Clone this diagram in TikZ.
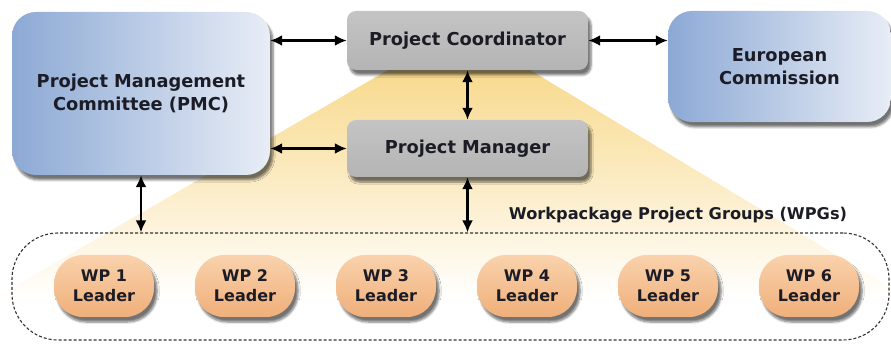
\documentclass[tikz,border=0pt]{standalone}
\usepackage{fontspec}
\setmainfont{DejaVu Sans}
\usetikzlibrary{arrows.meta,shadows.blur}
\definecolor{txt}{HTML}{1C1C26}
\definecolor{blueL}{HTML}{8CA9D5}
\definecolor{blueR}{HTML}{E8EDF6}
\definecolor{grayT}{HTML}{C4C4C4}
\definecolor{grayB}{HTML}{B4B4B4}
\definecolor{orT}{HTML}{F9D2AC}
\definecolor{orB}{HTML}{F0AF7A}
\definecolor{fanT}{HTML}{F8DA8E}
\definecolor{fanM}{HTML}{FCEBC2}
\begin{document}
\begin{tikzpicture}[x=1pt,y=-1pt,
  shad/.style={blur shadow={shadow xshift=3pt,shadow yshift=-5pt,shadow blur steps=6,shadow opacity=55}},
  bluebox/.style={shad,rounded corners=24pt,left color=blueL,right color=blueR,shading angle=90,
    align=center,text=txt,font=\fontsize{17.8}{22.5}\selectfont\bfseries,inner sep=0pt},
  graybox/.style={shad,rounded corners=9pt,top color=grayT,bottom color=grayB,
    minimum width=241pt,align=center,text=txt,font=\fontsize{17.8}{22}\selectfont\bfseries,inner sep=0pt},
  wpnode/.style={shad,rounded corners=29pt,top color=orT,bottom color=orB,minimum width=100pt,minimum height=62pt,
    align=center,text=txt,font=\fontsize{16}{20}\selectfont\bfseries,inner sep=0pt},
  arr/.style={line width=2.6pt,{Latex[length=12pt,width=11pt]}-{Latex[length=12pt,width=11pt]}}
]
\useasboundingbox (0,0) rectangle (891,344);
% fan
\begin{scope}
\clip (0,0) rectangle (891,344);
\shade[top color=fanT,middle color=fanM,bottom color=white]
  (388,70) -- (530,70) -- (911,300) -- (-9,300) -- cycle;
\end{scope}
% group
\node[draw=black!80,dashed,dash pattern=on 3pt off 2pt,line width=1.1pt,rounded corners=46pt,
  minimum width=877pt,minimum height=107pt,inner sep=0pt] (wpg) at (450.5,286.5) {};
\node[font=\fontsize{16.2}{20}\selectfont\bfseries,text=txt] (wpgl) at (678,215) {Workpackage Project Groups (WPGs)};
% boxes
\node[bluebox,minimum width=258pt,minimum height=163pt] (pmc) at (141,93.5) {Project Management\\Committee (PMC)};
\node[bluebox,minimum width=223pt,minimum height=111pt] (ec) at (779.5,66.5) {European\\Commission};
\node[graybox,minimum height=59pt] (pc) at (467.5,40.5) {Project Coordinator};
\node[graybox,minimum height=57pt] (pm) at (467.5,148.5) {Project Manager};
% WPs
\foreach \i/\x in {1/104,2/245,3/386,4/527,5/668,6/809}{
  \node[wpnode] (wp\i) at (\x,286) {WP \i\\Leader};
}
% arrows
\draw[arr] (pmc.east |- pc.west) -- (pc.west);
\draw[arr] (pc.east) -- (ec.west |- pc.east);
\draw[arr] (pc.south) -- (pm.north);
\draw[arr] (pmc.east |- pm.west) -- (pm.west);
\draw[arr] (pmc.south) -- (wpg.north -| pmc.south);
\draw[arr] (pm.south) -- (wpg.north -| pm.south);
\end{tikzpicture}
\end{document}
